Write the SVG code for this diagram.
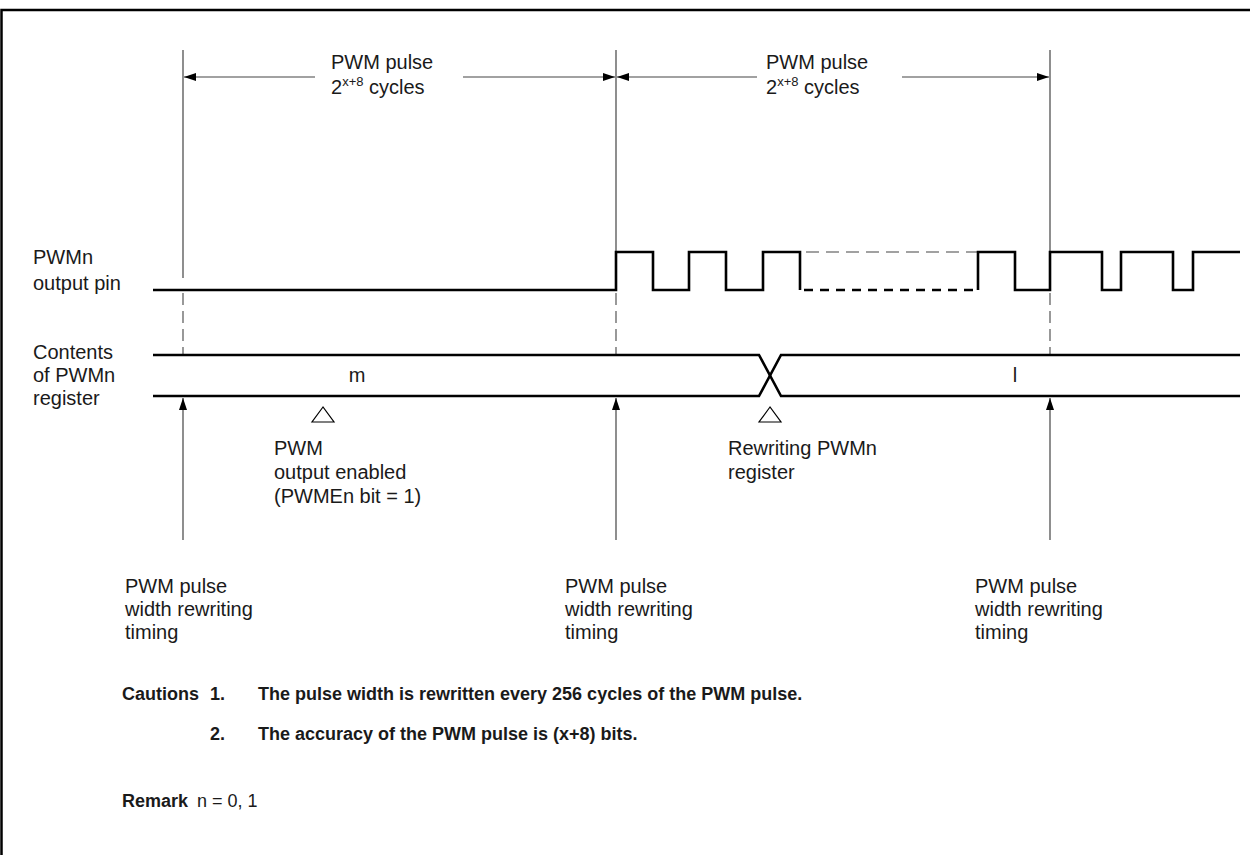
<svg xmlns="http://www.w3.org/2000/svg" width="1250" height="855" viewBox="0 0 1250 855">
<style>
text{font-family:"Liberation Sans",Arial,sans-serif;font-size:20px;fill:#1a1a1a}
.b{font-weight:bold;font-size:18px}
.sup{font-size:13px}
.sig{fill:none;stroke:#000;stroke-width:2.6}
.thin{fill:none;stroke:#444;stroke-width:1.2}
.dash{fill:none;stroke:#555;stroke-width:1.2;stroke-dasharray:12 6}
</style>
<defs>
<marker id="ah" viewBox="0 0 12 8" refX="12" refY="4" markerWidth="12" markerHeight="8" markerUnits="userSpaceOnUse" orient="auto">
<path d="M0,0 L12,4 L0,8 z" fill="#000"/>
</marker>
</defs>
<path id="frame" d="M1.5,855 V10 H1250" fill="none" stroke="#000" stroke-width="2.5"/>
<g id="connectors">
<line class="thin" x1="183" y1="50" x2="183" y2="278"/>
<line class="dash" x1="183" y1="293" x2="183" y2="355"/>
<line class="thin" x1="616" y1="50" x2="616" y2="290"/>
<line class="dash" x1="616" y1="293" x2="616" y2="355"/>
<line class="thin" x1="1050" y1="50" x2="1050" y2="290"/>
<line class="dash" x1="1050" y1="293" x2="1050" y2="355"/>
<line class="thin" x1="315" y1="77" x2="184" y2="77" marker-end="url(#ah)"/>
<line class="thin" x1="463" y1="77" x2="615" y2="77" marker-end="url(#ah)"/>
<line class="thin" x1="757" y1="77" x2="617" y2="77" marker-end="url(#ah)"/>
<line class="thin" x1="902" y1="77" x2="1049" y2="77" marker-end="url(#ah)"/>
<line class="thin" x1="183" y1="540" x2="183" y2="398" marker-end="url(#ah)"/>
<line class="thin" x1="616" y1="540" x2="616" y2="398" marker-end="url(#ah)"/>
<line class="thin" x1="1050" y1="540" x2="1050" y2="398" marker-end="url(#ah)"/>
</g>
<g id="pwm-output">
<path class="sig" d="M153,290 H616 V252 H653 V290 H689 V252 H726 V290 H763 V252 H800 V290"/>
<line x1="804" y1="290" x2="978" y2="290" stroke="#000" stroke-width="2.6" stroke-dasharray="9 7"/>
<line x1="806" y1="252" x2="978" y2="252" stroke="#444" stroke-width="1.2" stroke-dasharray="13 7"/>
<path class="sig" d="M978,290 V252 H1015 V290 H1050 V252 H1102 V290 H1121 V252 H1173 V290 H1193 V252 H1240"/>
</g>
<g id="register">
<path class="sig" d="M153,355 H759 L781,396 H1240"/>
<path class="sig" d="M153,396 H759 L781,355 H1240"/>
<text x="357" y="382" text-anchor="middle">m</text>
<text x="1015" y="382" text-anchor="middle">l</text>
</g>
<g id="markers">
<path d="M323,407 L312,422 L334,422 z" fill="#fff" stroke="#000" stroke-width="1.2"/>
<path d="M770,407 L759,422 L781,422 z" fill="#fff" stroke="#000" stroke-width="1.2"/>
</g>
<g id="labels-left">
<text x="33" y="264">PWMn</text>
<text x="33" y="290">output pin</text>
<text x="33" y="359">Contents</text>
<text x="33" y="382">of PWMn</text>
<text x="33" y="405">register</text>
</g>
<g id="period1">
<text x="331" y="69">PWM pulse</text>
<text x="331" y="94">2<tspan class="sup" dy="-8">x+8</tspan><tspan dy="8"> cycles</tspan></text>
</g>
<g id="period2">
<text x="766" y="69">PWM pulse</text>
<text x="766" y="94">2<tspan class="sup" dy="-8">x+8</tspan><tspan dy="8"> cycles</tspan></text>
</g>
<g id="note-enable">
<text x="274" y="455">PWM</text>
<text x="274" y="479">output enabled</text>
<text x="274" y="503">(PWMEn bit = 1)</text>
</g>
<g id="note-rewrite">
<text x="728" y="455">Rewriting PWMn</text>
<text x="728" y="479">register</text>
</g>
<g id="timing1">
<text x="125" y="593">PWM pulse</text>
<text x="125" y="616">width rewriting</text>
<text x="125" y="639">timing</text>
</g>
<g id="timing2">
<text x="565" y="593">PWM pulse</text>
<text x="565" y="616">width rewriting</text>
<text x="565" y="639">timing</text>
</g>
<g id="timing3">
<text x="975" y="593">PWM pulse</text>
<text x="975" y="616">width rewriting</text>
<text x="975" y="639">timing</text>
</g>
<g id="notes">
<text class="b" x="122" y="700">Cautions</text>
<text class="b" x="210" y="700">1.</text>
<text class="b" x="258" y="700">The pulse width is rewritten every 256 cycles of the PWM pulse.</text>
<text class="b" x="210" y="740">2.</text>
<text class="b" x="258" y="740">The accuracy of the PWM pulse is (x+8) bits.</text>
<text class="b" x="122" y="807">Remark</text>
<text x="197" y="807" style="font-size:18px">n = 0, 1</text>
</g>
</svg>
